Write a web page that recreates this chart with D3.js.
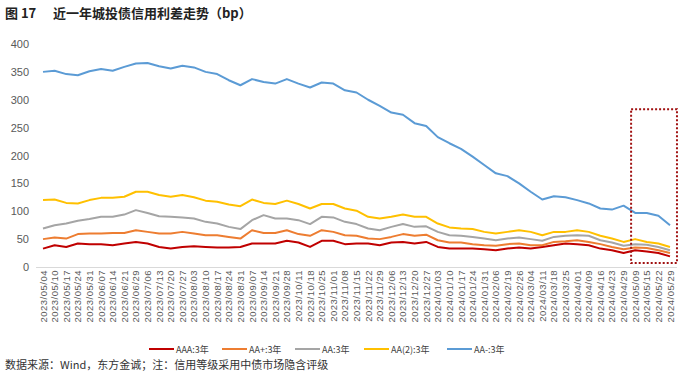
<!DOCTYPE html>
<html><head><meta charset="utf-8">
<script src="https://cdn.jsdelivr.net/npm/d3@7"></script>
<style>
html,body{margin:0;padding:0;background:#fff;}
svg{display:block;}
</style></head>
<body>
<svg id="chart" width="700" height="382"></svg>
<script>
const dates = ["2023/05/04","2023/05/10","2023/05/17","2023/05/24","2023/05/31","2023/06/07","2023/06/14","2023/06/21","2023/06/29","2023/07/06","2023/07/13","2023/07/20","2023/07/27","2023/08/03","2023/08/10","2023/08/17","2023/08/24","2023/08/31","2023/09/07","2023/09/14","2023/09/21","2023/09/28","2023/10/11","2023/10/18","2023/10/25","2023/11/01","2023/11/08","2023/11/15","2023/11/22","2023/11/29","2023/12/06","2023/12/13","2023/12/20","2023/12/27","2024/01/03","2024/01/10","2024/01/17","2024/01/24","2024/01/31","2024/02/06","2024/02/19","2024/02/26","2024/03/04","2024/03/11","2024/03/18","2024/03/25","2024/04/01","2024/04/09","2024/04/16","2024/04/23","2024/04/29","2024/05/09","2024/05/15","2024/05/22","2024/05/29"];

const aaa  = [33,39,36,42,41,41,39,42,45,42,36,33,36,37,36,35,35,36,42,42,42,47,44,36,47,47,41,42,42,39,44,45,42,45,36,33,33,33,32,30,33,35,33,36,39,42,41,39,33,30,25,30,28,25,19];
const aaP  = [50,53,51,59,60,60,61,61,66,63,60,60,63,60,57,57,54,51,66,61,61,66,59,56,66,63,57,56,51,50,54,59,56,58,48,44,44,41,39,38,41,42,39,39,45,46,48,45,41,36,32,35,34,30,25];
const aa   = [69,75,78,83,86,90,90,94,102,97,91,90,89,87,81,78,72,68,84,93,87,87,84,77,90,89,81,77,69,66,72,77,72,73,63,57,56,54,51,48,51,53,50,47,54,56,57,56,48,44,38,41,40,36,30];
const aa2  = [120,121,115,114,120,124,124,126,135,135,129,126,129,125,119,117,112,109,121,115,113,119,113,105,113,113,105,101,90,87,90,94,90,90,78,71,69,68,63,60,63,66,63,57,63,63,66,63,56,51,45,50,45,42,36];
const aaM  = [350,352,346,344,351,355,352,359,365,366,360,356,361,358,350,346,335,326,337,332,329,337,329,322,331,329,317,313,300,289,277,273,258,253,233,222,212,198,183,168,163,150,135,121,127,125,120,114,105,103,110,97,97,92,75];

const seriesNames = ["AAA:3年","AA+:3年","AA:3年","AA(2):3年","AA-:3年"];
const seriesColors = ["#C00000","#ED7D31","#A5A5A5","#FFC000","#5B9BD5"];
const seriesValues = [aaa, aaP, aa, aa2, aaM];
const yTicks = [0,50,100,150,200,250,300,350,400];

const svg = d3.select("#chart");
const x = d3.scaleLinear().domain([0, dates.length-1]).range([43, 670]);
const y = d3.scaleLinear().domain([0, 400]).range([267, 44]);

// Title
svg.append("text").attr("x",5).attr("y",18)
  .attr("font-family","'Noto Sans CJK SC', sans-serif").attr("font-weight","bold")
  .attr("font-size",13).attr("fill","#222")
  .text("图 17");
svg.append("text").attr("x",53).attr("y",18)
  .attr("font-family","'Noto Sans CJK SC', sans-serif").attr("font-weight","bold")
  .attr("font-size",13).attr("fill","#222")
  .text("近一年城投债信用利差走势（bp）");

// Y axis
const yAxis = d3.axisLeft(y).tickValues(yTicks).tickSize(0).tickPadding(0);
const gy = svg.append("g").attr("transform","translate(29,0)").call(yAxis);
gy.select(".domain").remove();
gy.selectAll("text").attr("font-family","'Liberation Sans', Arial, sans-serif")
  .attr("font-size",11).attr("fill","#595959");

// X axis line
svg.append("line").attr("x1",x(-0.6)).attr("x2",x(54.6)).attr("y1",y(0)+0.5).attr("y2",y(0)+0.5)
  .attr("stroke","#D9D9D9").attr("stroke-width",1);

// X axis labels
const xAxis = d3.axisBottom(x).tickValues(d3.range(dates.length)).tickFormat(i=>dates[i]).tickSize(0);
const gx = svg.append("g").attr("transform","translate(0,"+(y(0)+3)+")").call(xAxis);
gx.select(".domain").remove();
gx.selectAll("text")
  .attr("font-family","'Liberation Sans', Arial, sans-serif")
  .attr("font-size",9.5).attr("letter-spacing","0.5px").attr("fill","#595959")
  .attr("text-anchor","end").attr("dy","0.32em").attr("y",0).attr("x",0)
  .attr("transform","rotate(-90)");

// Lines
const line = d3.line().x((d,i)=>x(i)).y(d=>y(d)).curve(d3.curveLinear);
seriesValues.forEach((vals,k)=>{
  svg.append("path").datum(vals).attr("d",line)
    .attr("fill","none").attr("stroke",seriesColors[k]).attr("stroke-width",2)
    .attr("stroke-linejoin","round");
});

// Highlight box
svg.append("rect").attr("x",x(50.65)).attr("y",y(283))
  .attr("width",x(54.6)-x(50.65)).attr("height",y(7)-y(283))
  .attr("fill","none").attr("stroke","#A01010").attr("stroke-width",2)
  .attr("stroke-dasharray","2,2");

// Legend
const legX = [149,222,295,364,447];
const lg = svg.append("g");
seriesNames.forEach((n,k)=>{
  lg.append("line").attr("x1",legX[k]).attr("x2",legX[k]+25).attr("y1",349).attr("y2",349)
    .attr("stroke",seriesColors[k]).attr("stroke-width",2);
  lg.append("text").attr("x",legX[k]+27).attr("y",352.5)
    .attr("font-family","'Noto Sans CJK SC', sans-serif").attr("font-size",9).attr("fill","#404040")
    .text(n);
});

// Footer
svg.append("text").attr("x",5).attr("y",369)
  .attr("font-family","'Noto Sans CJK SC', sans-serif").attr("font-size",11).attr("fill","#333")
  .text("数据来源：Wind，东方金诚；注：信用等级采用中债市场隐含评级");
</script>
</body></html>
